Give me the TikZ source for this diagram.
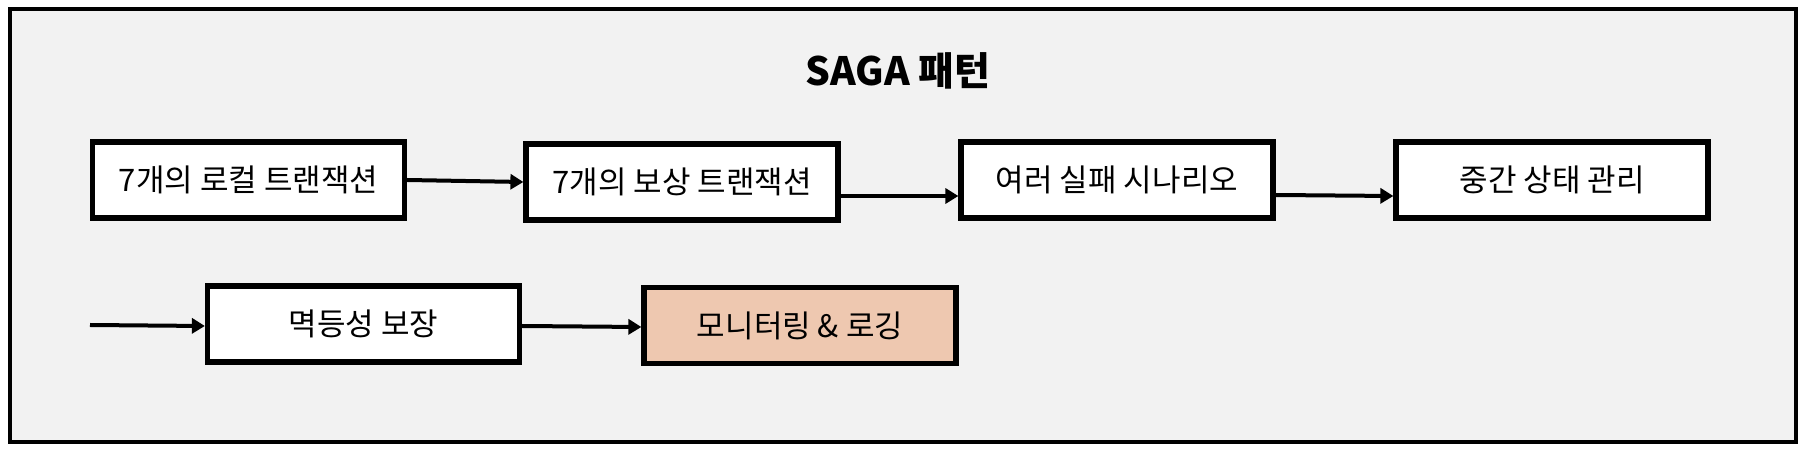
\documentclass[tikz,border=0pt]{standalone}
\usepackage{fontspec}
\newfontfamily\kr{Noto Sans CJK KR}
\usetikzlibrary{arrows.meta}
\definecolor{bgc}{RGB}{242,242,242}
\definecolor{peach}{RGB}{238,200,176}
\tikzset{
  stepbox/.style={draw=black, line width=2.6pt, fill=white, minimum width=156pt, minimum height=38pt, inner sep=0pt, font=\kr\fontsize{15.5}{18}\selectfont},
  arr/.style={line width=2pt, -{Triangle[length=6.5pt,width=7.5pt]}}
}
\begin{document}
\begin{tikzpicture}[x=0.5pt,y=-0.5pt]
\useasboundingbox (0,0) rectangle (1808,458);
\fill[white] (0,0) rectangle (1808,458);
\draw[line width=2.3pt, fill=bgc] (10,9) rectangle (1796,442);
\node[font=\kr\bfseries\fontsize{19.5}{22}\selectfont] (title) at (898,71) {SAGA 패턴};
\node[stepbox] (b1) at (248.5,180) {7개의 로컬 트랜잭션};
\node[stepbox] (b2) at (682,182) {7개의 보상 트랜잭션};
\node[stepbox] (b3) at (1117,180) {여러 실패 시나리오};
\node[stepbox] (b4) at (1552,180) {중간 상태 관리};
\node[stepbox] (b5) at (363.5,324) {멱등성 보장};
\node[stepbox, fill=peach] (b6) at (800,325.5) {모니터링 \& 로깅};
\coordinate (in) at (90,325);
\draw[arr] (b1.east) -- (b2.west);
\draw[arr] ([yshift=-7pt]b2.east) -- ([yshift=-8pt]b3.west);
\draw[arr] ([yshift=-7.5pt]b3.east) -- ([yshift=-8pt]b4.west);
\draw[arr] (in) -- ([yshift=-1pt]b5.west);
\draw[arr] ([yshift=-1pt]b5.east) -- ([yshift=-0.75pt]b6.west);
\end{tikzpicture}
\end{document}
